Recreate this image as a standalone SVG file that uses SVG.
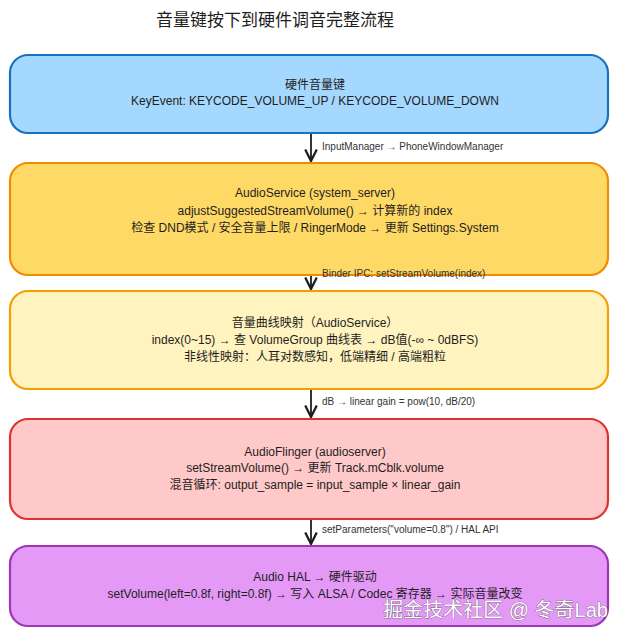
<svg xmlns="http://www.w3.org/2000/svg" width="620" height="636" viewBox="0 0 620 636">
<defs>
<marker id="ah" viewBox="0 0 10 10" refX="9" refY="5" markerWidth="8" markerHeight="8" orient="auto"><path d="M1,1 L9,5 L1,9" fill="none" stroke="#1e1e1e" stroke-width="1.6"/></marker>
</defs>
<style>
.box{stroke-width:2.2}
.t{font-family:"Liberation Sans","Noto Sans CJK SC",sans-serif;font-size:12px;fill:#1e1e1e;text-anchor:middle}
.l{font-family:"Liberation Sans","Noto Sans CJK SC",sans-serif;font-size:10px;fill:#333}
.c{stroke:#1e1e1e;stroke-width:1.8;fill:none}
</style>
<rect width="620" height="636" fill="#fff"/>
<text x="275" y="26" font-family="Liberation Sans,'Noto Sans CJK SC',sans-serif" font-size="17" fill="#1e1e1e" text-anchor="middle">音量键按下到硬件调音完整流程</text>
<g id="n1"><rect class="box" x="10" y="55" width="598" height="78" rx="18" fill="#a5d8ff" stroke="#1971c2"/>
<text class="t" x="315" y="89">硬件音量键</text><text class="t" x="315" y="105">KeyEvent: KEYCODE_VOLUME_UP / KEYCODE_VOLUME_DOWN</text></g>
<g id="n2"><rect class="box" x="10" y="163" width="598" height="112" rx="18" fill="#ffd966" stroke="#f08c00"/>
<text class="t" x="315" y="197">AudioService (system_server)</text><text class="t" x="315" y="215">adjustSuggestedStreamVolume() → 计算新的 index</text><text class="t" x="315" y="232">检查 DND模式 / 安全音量上限 / RingerMode  →  更新 Settings.System</text></g>
<g id="n3"><rect class="box" x="10" y="291" width="598" height="98" rx="18" fill="#fff3bf" stroke="#f59f00"/>
<text class="t" x="315" y="327">音量曲线映射（AudioService）</text><text class="t" x="315" y="344">index(0~15) → 查 VolumeGroup 曲线表 → dB值(-∞ ~ 0dBFS)</text><text class="t" x="315" y="361">非线性映射：人耳对数感知，低端精细 / 高端粗粒</text></g>
<g id="n4"><rect class="box" x="10" y="419" width="598" height="100" rx="18" fill="#ffc9c9" stroke="#e03131"/>
<text class="t" x="315" y="456">AudioFlinger (audioserver)</text><text class="t" x="315" y="472">setStreamVolume() → 更新 Track.mCblk.volume</text><text class="t" x="315" y="489">混音循环: output_sample = input_sample × linear_gain</text></g>
<g id="n5"><rect class="box" x="10" y="546" width="598" height="80" rx="18" fill="#e599f7" stroke="#9c36b5"/>
<text class="t" x="315" y="581">Audio HAL → 硬件驱动</text><text class="t" x="315" y="598">setVolume(left=0.8f, right=0.8f) → 写入 ALSA / Codec 寄存器 → 实际音量改变</text></g>
<g id="connectors">
<line class="c" x1="311" y1="134" x2="311" y2="161" marker-end="url(#ah)"/>
<line class="c" x1="311" y1="276" x2="311" y2="289" marker-end="url(#ah)"/>
<line class="c" x1="311" y1="390" x2="311" y2="417" marker-end="url(#ah)"/>
<line class="c" x1="311" y1="520" x2="311" y2="544" marker-end="url(#ah)"/>
<text class="l" x="322" y="150">InputManager → PhoneWindowManager</text>
<text class="l" x="322" y="277">Binder IPC: setStreamVolume(index)</text>
<text class="l" x="322" y="405">dB → linear gain = pow(10, dB/20)</text>
<text class="l" x="322" y="533">setParameters("volume=0.8") / HAL API</text>
</g>
<text x="608" y="617" font-family="Liberation Sans,'Noto Sans CJK SC',sans-serif" font-size="20" fill="#fff" stroke="#444" stroke-width="0.6" paint-order="stroke" text-anchor="end">掘金技术社区 @ 冬奇Lab</text>
</svg>
